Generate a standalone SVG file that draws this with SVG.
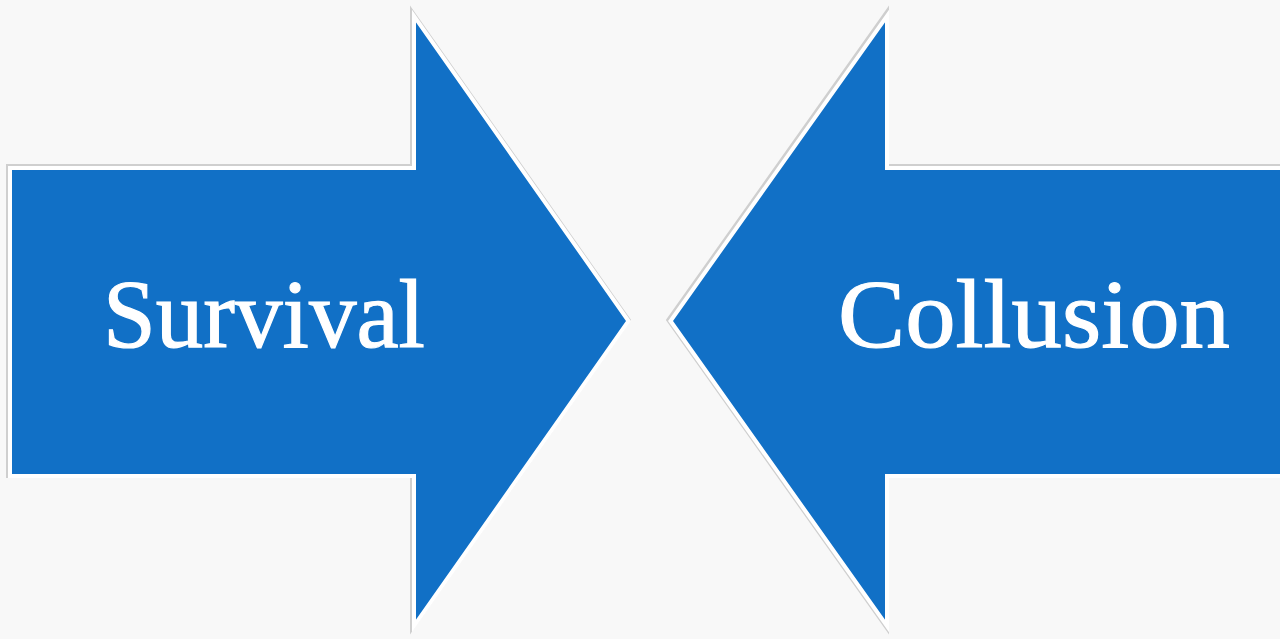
<svg xmlns="http://www.w3.org/2000/svg" width="1280" height="639" viewBox="0 0 1280 639">
  <defs>
    <style>
      .shadow { fill: none; stroke: #cfcfcf; stroke-width: 6; stroke-linejoin: miter; stroke-miterlimit: 10; }
      .arrow { fill: #1170c6; stroke: #ffffff; stroke-width: 4; stroke-linejoin: miter; stroke-miterlimit: 10; }
      .label { font-family: "Liberation Serif", "Times New Roman", serif; font-size: 98px; fill: #ffffff; stroke: #ffffff; stroke-width: 1.2; text-anchor: middle; }
    </style>
    <polygon id="leftShape" points="10,168 414,168 414,16 628.5,321 414,626 414,476 10,476"/>
    <polygon id="rightShape" points="1284,168 887,168 887,16 670.5,321 887,626 887,476 1284,476"/>
  </defs>
  <rect x="0" y="0" width="1280" height="639" fill="#f8f8f8"/>
  <g id="survival">
    <use href="#leftShape" class="shadow" transform="translate(-1,-1)"/>
    <use href="#leftShape" class="arrow"/>
    <text class="label" x="264" y="347" textLength="322" lengthAdjust="spacingAndGlyphs">Survival</text>
  </g>
  <g id="collusion">
    <use href="#rightShape" class="shadow" transform="translate(-1,-1)"/>
    <use href="#rightShape" class="arrow"/>
    <text class="label" x="1034" y="347" textLength="392" lengthAdjust="spacingAndGlyphs">Collusion</text>
  </g>
  <g id="connectors"/>
</svg>
